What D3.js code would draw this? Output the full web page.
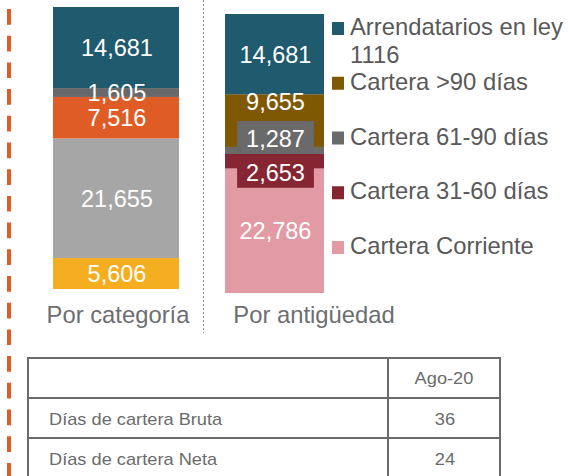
<!DOCTYPE html>
<html>
<head>
<meta charset="utf-8">
<script src="https://cdn.jsdelivr.net/npm/d3@7"></script>
<style>
  body { margin: 0; background: #fff; }
  svg { display: block; font-family: "Liberation Sans", Arial, sans-serif; }
</style>
</head>
<body>
<script>
// data, top segment first
var catValues = [14681, 1605, 7516, 21655, 5606];
var catColors = ["#1f5a6e", "#67686a", "#e05c26", "#a6a6a6", "#f5ae1f"];

var ageSeries = ["Arrendatarios en ley 1116", "Cartera >90 días", "Cartera 61-90 días", "Cartera 31-60 días", "Cartera Corriente"];
var ageValues = [14681, 9655, 1287, 2653, 22786];
var ageColors = ["#1f5a6e", "#7f5804", "#6a6a6a", "#862633", "#e29aa4"];

var barNames = ["Por categoría", "Por antigüedad"];

var tableHeader = ["", "Ago-20"];
var tableLabels = ["Días de cartera Bruta", "Días de cartera Neta"];
var tableValues = [36, 24];

var fmt = d3.format(",");
var W = 569, H = 476;

var svg = d3.select("body").append("svg")
    .attr("width", W)
    .attr("height", H);

// orange dashed rule on the left
svg.append("line")
    .attr("x1", 9).attr("x2", 9)
    .attr("y1", 9).attr("y2", H)
    .attr("stroke", "#e05c26")
    .attr("stroke-width", 4)
    .attr("stroke-dasharray", "15.7,11");

// dotted separator between the two bars
svg.append("line")
    .attr("x1", 203.5).attr("x2", 203.5)
    .attr("y1", 0).attr("y2", 333)
    .attr("stroke", "#8c8c8c")
    .attr("stroke-width", 1)
    .attr("stroke-dasharray", "2,2");

// each bar sits in its own little plot
var panels = [
    {name: barNames[0], values: catValues, colors: catColors, x0: 53, w: 126, top: 7, bottom: 289, labelX: 118,
     shift: [0, 0, 0, 0, 0], boxes: [null, null, null, null, null]},
    {name: barNames[1], values: ageValues, colors: ageColors, x0: 225, w: 99, top: 14, bottom: 293, labelX: 314,
     shift: [0, -19, -12, 11, 0], boxes: [null, null, "#6a6a6a", "#862633", null]}
];

panels.forEach(function(p) {
    var total = d3.sum(p.values);
    var y = d3.scaleLinear().domain([0, total]).range([p.bottom, p.top]);
    // cumulative from the bottom of the stack
    var rev = p.values.slice().reverse();
    var cum = Array.from(d3.cumsum(rev));
    var segs = rev.map(function(v, i) {
        var k = p.values.length - 1 - i;
        return {value: v, y0: cum[i] - v, y1: cum[i], color: p.colors[k], shift: p.shift[k], box: p.boxes[k]};
    });

    var g = svg.append("g");
    g.selectAll("rect.seg")
        .data(segs)
        .enter().append("rect")
        .attr("class", "seg")
        .attr("x", p.x0)
        .attr("width", p.w)
        .attr("y", function(d) { return y(d.y1); })
        .attr("height", function(d) { return y(d.y0) - y(d.y1); })
        .attr("fill", function(d) { return d.color; });

    var cx = p.x0 + p.w / 2 + 1;
    // labels drawn top-down so lower boxes cover upper ones
    segs.slice().reverse().forEach(function(d) {
        var cy = (y(d.y0) + y(d.y1)) / 2 + d.shift;
        var lg = g.append("g");
        var t = lg.append("text")
            .attr("x", cx)
            .attr("y", cy + 8.5)
            .attr("text-anchor", "middle")
            .attr("fill", "#ffffff")
            .attr("font-size", "23.5px")
            .text(fmt(d.value));
        if (d.box) {
            var bb = t.node().getBBox();
            lg.insert("rect", "text")
                .attr("x", bb.x - 9)
                .attr("y", bb.y - 5)
                .attr("width", bb.width + 18)
                .attr("height", bb.height + 7)
                .attr("fill", d.box);
        }
    });

    svg.append("text")
        .attr("x", p.labelX)
        .attr("y", 323)
        .attr("text-anchor", "middle")
        .attr("fill", "#6d6e71")
        .attr("font-size", "23.8px")
        .text(p.name);
});

// legend for the age bar
var legY = d3.scaleLinear().domain([0, ageSeries.length - 1]).range([35, 254]);
var leg = svg.append("g");
ageSeries.forEach(function(s, i) {
    var by = legY(i);
    leg.append("rect")
        .attr("x", 332).attr("y", by - 13)
        .attr("width", 12).attr("height", 13)
        .attr("fill", ageColors[i]);
    var t = leg.append("text")
        .attr("x", 350).attr("y", by)
        .attr("fill", "#595959")
        .attr("font-size", "23.8px");
    // wrap long entries
    var words = s.split(" "), line = [], lineNo = 0;
    var ts = t.append("tspan").attr("x", 350).attr("y", by);
    words.forEach(function(w) {
        line.push(w);
        ts.text(line.join(" "));
        if (ts.node().getComputedTextLength() > 216 && line.length > 1) {
            line.pop();
            ts.text(line.join(" "));
            line = [w];
            lineNo++;
            ts = t.append("tspan").attr("x", 350).attr("y", by + lineNo * 28).text(w);
        }
    });
});

// small table below
var colX = [28, 388, 500];
var rowY = [358, 398, 438, 478];
var tbl = svg.append("g");
var lineColor = "#6b6b6b";
rowY.forEach(function(ry) {
    tbl.append("line").attr("x1", colX[0] - 1).attr("x2", colX[2] + 1)
        .attr("y1", ry).attr("y2", ry)
        .attr("stroke", lineColor).attr("stroke-width", 2);
});
colX.forEach(function(cx) {
    tbl.append("line").attr("x1", cx).attr("x2", cx)
        .attr("y1", rowY[0]).attr("y2", rowY[3])
        .attr("stroke", lineColor).attr("stroke-width", 2);
});

function cellText(x, y, txt, anchor) {
    tbl.append("text")
        .attr("transform", "translate(" + x + "," + y + ") scale(1.14,1)")
        .attr("text-anchor", anchor)
        .attr("fill", "#6b6b6b")
        .attr("font-size", "16px")
        .text(txt);
}
var midX = (colX[1] + colX[2]) / 2;
cellText(midX, 384, tableHeader[1], "middle");
tableLabels.forEach(function(l, i) {
    var by = rowY[i + 1] + 27;
    cellText(49, by, l, "start");
    cellText(midX + 1, by, tableValues[i], "middle");
});
</script>
</body>
</html>
